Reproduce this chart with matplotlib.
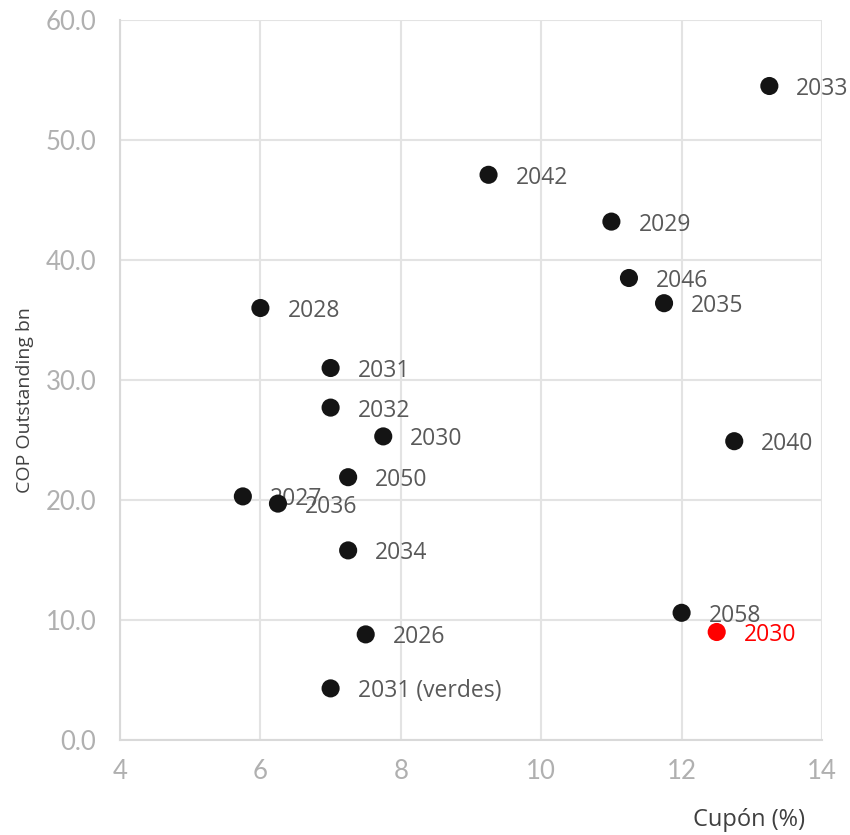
import matplotlib.pyplot as plt
from matplotlib import transforms

# bond data: coupon (%) vs outstanding (COP bn)
labels = ["2033", "2042", "2029", "2046", "2035", "2028", "2031", "2032",
          "2030", "2040", "2050", "2027", "2036", "2034", "2058", "2026",
          "2031 (verdes)", "2030"]
cupon = [13.25, 9.25, 11.0, 11.25, 11.75, 6.0, 7.0, 7.0,
         7.75, 12.75, 7.25, 5.75, 6.25, 7.25, 12.0, 7.5,
         7.0, 12.5]
outstanding = [54.5, 47.1, 43.2, 38.5, 36.4, 36.0, 31.0, 27.7,
               25.3, 24.9, 21.9, 20.3, 19.7, 15.8, 10.6, 8.8,
               4.3, 9.0]
colors = ["#141414"] * 17 + ["#ff0000"]
label_colors = ["#595959"] * 17 + ["#ff0000"]

xticks = [4, 6, 8, 10, 12, 14]
yticks = [0, 10, 20, 30, 40, 50, 60]

plt.rcParams['font.family'] = ['Open Sans', 'DejaVu Sans']

fig = plt.figure(figsize=(8.5, 8.35), dpi=100)
ax = fig.add_axes([120 / 850, 95 / 835, 702 / 850, 720 / 835])

ax.set_xlim(4, 14)
ax.set_ylim(0, 60)
ax.set_xticks(xticks)
ax.set_yticks(yticks)
ax.set_yticklabels([f"{v:.1f}" for v in yticks])
ax.grid(True, color="#e3e3e3", linewidth=1.5, zorder=0)
ax.set_axisbelow(True)

for side in ["top", "right"]:
    ax.spines[side].set_visible(False)
for side in ["left", "bottom"]:
    ax.spines[side].set_color("#d9d9d9")
    ax.spines[side].set_linewidth(1.5)

ax.tick_params(length=0, labelsize=18.5, labelcolor="#b0b0b0")
ax.tick_params(axis="y", pad=17)
ax.tick_params(axis="x", pad=14)
for t in ax.get_xticklabels() + ax.get_yticklabels():
    t.set_family(['Lato', 'DejaVu Sans'])

# labels sit right of each point, slightly below centre
offset = ax.transData + transforms.ScaledTranslation(27 / 100, -3 / 100, fig.dpi_scale_trans)
for i in range(len(labels)):
    ax.text(cupon[i], outstanding[i], labels[i], color=label_colors[i],
            fontsize=16.5, va="center", ha="left", zorder=2, transform=offset)

ax.scatter(cupon, outstanding, s=170, c=colors, zorder=3, linewidths=0, clip_on=False)

fig.text(25 / 850, 1 - 400 / 835, "COP Outstanding bn", rotation=90,
         ha="center", va="center", fontsize=14, color="#404040")
fig.text(749 / 850, 1 - 820 / 835, "Cupón (%)", ha="center", va="center",
         fontsize=17, color="#404040")

fig.savefig("out.png", dpi=100)
